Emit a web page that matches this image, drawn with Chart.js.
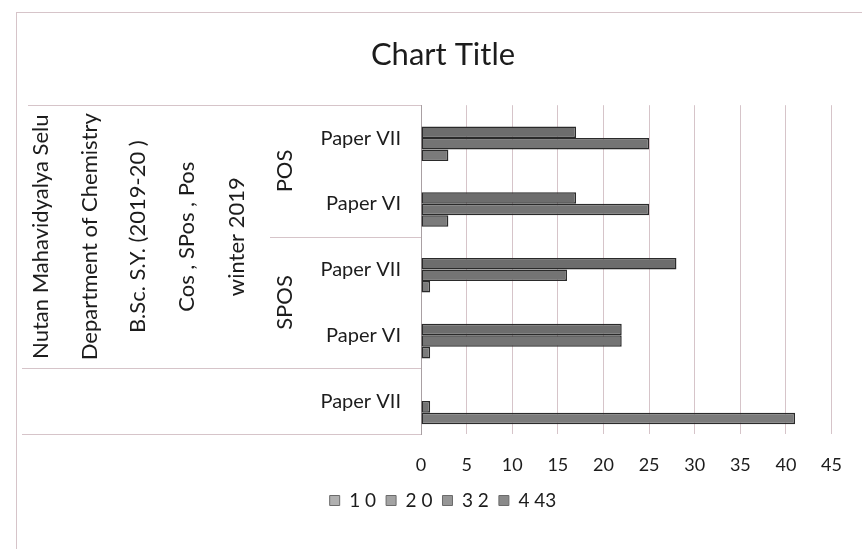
<!DOCTYPE html>
<html>
<head>
<meta charset="utf-8">
<script src="https://cdn.jsdelivr.net/npm/chart.js@4/dist/chart.umd.min.js"></script>
<style>
  html, body { margin: 0; padding: 0; background: #fff; }
  #wrap { width: 862px; height: 549px; }
</style>
</head>
<body>
<div id="wrap"><canvas id="barChart"></canvas></div>
<script>
// data (rows top to bottom)
const categories = ["Paper VII", "Paper VI", "Paper VII", "Paper VI", "Paper VII"];
const seriesNames = ["1 0", "2 0", "3 2", "4 43"];
const series1 = [3, 3, 1, 1, 41];
const series2 = [25, 25, 16, 22, 1];
const series3 = [17, 17, 28, 22, 0];
const series4 = [0, 0, 0, 0, 0];

// outer category levels
const groupLevel2 = [
    { label: "POS", first: 0, last: 1 },
    { label: "SPOS", first: 2, last: 3 },
];
const groupLevel3 = [
    "Nutan Mahavidyalya Selu",
    "Department of Chemistry",
    "B.Sc. S.Y. (2019-20 )",
    "Cos , SPos , Pos",
    "winter 2019",
];
const level3First = 0;
const level3Last = 3;

const fontFamily = "Lato, 'Noto Sans', sans-serif";
const textColor = "#1c1c1c";
const lineColor = "#d6c4c9";

const groupAxisPlugin = {
    id: "groupAxis",
    beforeDraw: (chart) => {
        const ctx = chart.ctx;
        ctx.save();
        ctx.strokeStyle = lineColor;
        ctx.lineWidth = 1;
        ctx.strokeRect(16.5, 12.5, 900, 600);
        ctx.restore();
    },
    afterDraw: (chart) => {
        const ctx = chart.ctx;
        const y = chart.scales.y;
        const axisX = chart.chartArea.left;
        const half = (y.getPixelForValue(1) - y.getPixelForValue(0)) / 2;
        const top = (i) => y.getPixelForValue(i) - half;
        const bottom = (i) => y.getPixelForValue(i) + half;

        ctx.save();
        ctx.strokeStyle = lineColor;
        ctx.lineWidth = 1;
        const hline = (x0, yy) => {
            ctx.beginPath();
            ctx.moveTo(x0, Math.round(yy) + 0.5);
            ctx.lineTo(axisX, Math.round(yy) + 0.5);
            ctx.stroke();
        };
        hline(28, top(level3First));
        hline(270, bottom(groupLevel2[0].last));
        hline(22, bottom(level3Last));
        hline(22, bottom(categories.length - 1));

        ctx.fillStyle = textColor;
        ctx.font = "22px " + fontFamily;
        ctx.textAlign = "center";
        ctx.textBaseline = "middle";
        const vtext = (txt, x, yy) => {
            ctx.save();
            ctx.translate(x, yy);
            ctx.rotate(-Math.PI / 2);
            ctx.fillText(txt, 0, 0);
            ctx.restore();
        };
        const cols = [41, 90, 138, 187, 237];
        const midAll = (top(level3First) + bottom(level3Last)) / 2;
        groupLevel3.forEach((txt, i) => vtext(txt, cols[i], midAll));
        groupLevel2.forEach((g) => {
            vtext(g.label, 285, (top(g.first) + bottom(g.last)) / 2);
        });
        ctx.restore();
    },
};

const zeroless = (ctx) => (ctx.raw === 0 ? 0 : 1.5);

new Chart(document.getElementById("barChart"), {
    type: "bar",
    data: {
        labels: categories,
        datasets: [
            { label: seriesNames[3], data: series4, backgroundColor: "#666666" },
            { label: seriesNames[2], data: series3, backgroundColor: "#6d6d6d" },
            { label: seriesNames[1], data: series2, backgroundColor: "#747474" },
            { label: seriesNames[0], data: series1, backgroundColor: "#7b7b7b" },
        ].map((d) => ({
            ...d,
            borderColor: "#2a2a2a",
            borderWidth: zeroless,
            borderSkipped: false,
            categoryPercentage: 0.7,
            barPercentage: 1,
        })),
    },
    options: {
        indexAxis: "y",
        responsive: true,
        maintainAspectRatio: false,
        animation: false,
        layout: { padding: { left: 53, right: 29, top: 0, bottom: 29 } },
        plugins: {
            title: {
                display: true,
                text: "Chart Title",
                color: textColor,
                font: { family: fontFamily, size: 31, weight: "normal" },
                padding: { top: 36, bottom: 32 },
            },
            legend: {
                position: "bottom",
                reverse: true,
                labels: {
                    color: textColor,
                    font: { family: fontFamily, size: 19 },
                    boxWidth: 10,
                    boxHeight: 10,
                    padding: 10,
                    generateLabels: (chart) =>
                        Chart.defaults.plugins.legend.labels.generateLabels(chart).map((l, i) => ({
                            ...l,
                            fillStyle: ["#8a8a8a", "#969696", "#a3a3a3", "#b0b0b0"][i],
                            strokeStyle: "#6b6b6b",
                            lineWidth: 1,
                        })),
                },
            },
            tooltip: { enabled: false },
        },
        scales: {
            x: {
                min: 0,
                max: 45,
                ticks: {
                    stepSize: 5,
                    color: textColor,
                    padding: 20,
                    font: { family: fontFamily, size: 18 },
                },
                grid: { color: lineColor, drawTicks: false },
                border: { display: false },
                afterFit: (scale) => { scale.height = 47; },
            },
            y: {
                ticks: {
                    color: textColor,
                    padding: 20,
                    font: { family: fontFamily, size: 20 },
                },
                grid: { display: false, drawTicks: false },
                border: { display: true, color: "#a9a0a3" },
                afterFit: (scale) => { scale.width = 368; },
            },
        },
    },
    plugins: [groupAxisPlugin],
});
</script>
</body>
</html>
